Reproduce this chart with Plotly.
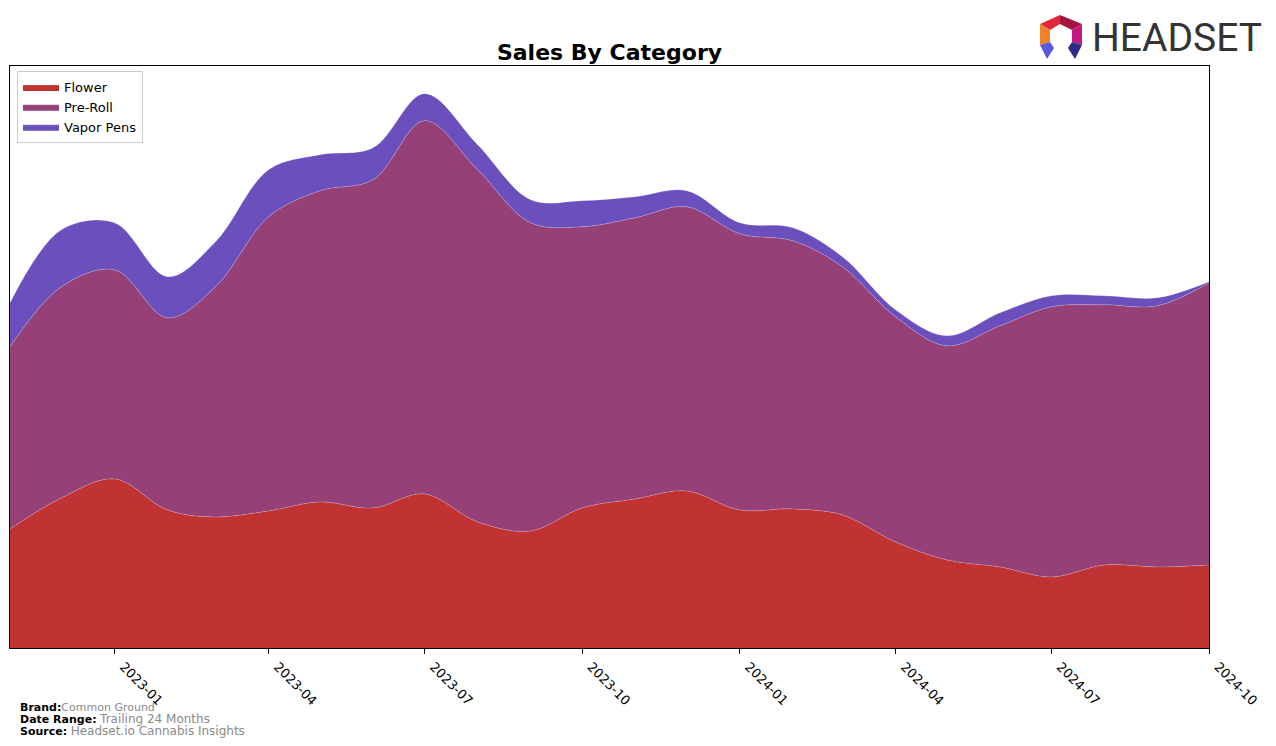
import plotly.graph_objects as go

# ---- data (monthly sales, arbitrary units) ----
months = ["2022-11-01", "2022-12-01", "2023-01-01", "2023-02-01", "2023-03-01", "2023-04-01",
          "2023-05-01", "2023-06-01", "2023-07-01", "2023-08-01", "2023-09-01", "2023-10-01",
          "2023-11-01", "2023-12-01", "2024-01-01", "2024-02-01", "2024-03-01", "2024-04-01",
          "2024-05-01", "2024-06-01", "2024-07-01", "2024-08-01", "2024-09-01", "2024-10-01"]
flower = [119, 150, 169, 138, 131, 137, 146, 140, 154, 126, 117, 140,
          149, 157, 138, 139, 133, 106, 88, 81, 71, 83, 81, 83]
pre_roll = [182, 211, 209, 192, 230, 294, 311, 328, 373, 352, 308, 281,
            281, 284, 276, 268, 248, 225, 214, 241, 270, 260, 261, 282]
vapor_pens = [44, 57, 47, 41, 45, 47, 36, 32, 27, 25, 23, 26,
              21, 16, 11, 13, 10, 7, 10, 13, 11, 9, 8, 1]
tick_vals = ["2023-01-01", "2023-04-01", "2023-07-01", "2023-10-01",
             "2024-01-01", "2024-04-01", "2024-07-01", "2024-10-01"]
tick_text = ["2023-01", "2023-04", "2023-07", "2023-10",
             "2024-01", "2024-04", "2024-07", "2024-10"]

series = [("Flower", flower, "#C13232"),
          ("Pre-Roll", pre_roll, "#954177"),
          ("Vapor Pens", vapor_pens, "#6A4FBD")]

W, H = 1276, 746
L, R, T, B = 10, 67, 66, 98
PW, PH = W - L - R, H - T - B


def px(x):
    return (x - L) / PW


def py(y):
    return (H - B - y) / PH


fig = go.Figure()
for name, vals, col in series:
    fig.add_trace(go.Scatter(
        x=months, y=vals, name=name, stackgroup="one", mode="lines",
        line=dict(shape="spline", smoothing=1.0, width=0.6, color="rgba(255,255,255,0.35)"),
        fillcolor=col,
    ))

totals = [a + b + c for a, b, c in zip(flower, pre_roll, vapor_pens)]
ymax = max(totals) * 1.05

fig.update_layout(
    width=W, height=H,
    margin=dict(l=L, r=R, t=T, b=B),
    paper_bgcolor="white", plot_bgcolor="white",
    font=dict(family="DejaVu Sans", size=13, color="black"),
    title=dict(text="<b>Sales By Category</b>", x=0.5, xref="paper",
               y=1 - 52 / H, yref="container", yanchor="middle", xanchor="center",
               font=dict(family="DejaVu Sans", size=22, color="black")),
    showlegend=True,
    legend=dict(x=px(17), y=py(71), xanchor="left", yanchor="top",
                bgcolor="rgba(255,255,255,0.8)", bordercolor="#cccccc", borderwidth=1,
                font=dict(family="DejaVu Sans", size=13, color="black"),
                traceorder="normal", itemwidth=36, tracegroupgap=0),
    hovermode=False,
    xaxis=dict(range=[months[0], months[-1]], tickvals=tick_vals, ticktext=tick_text,
               tickangle=45, ticks="outside", ticklen=5, tickcolor="black",
               ticklabelshift=9,
               showline=True, linecolor="black", linewidth=1, mirror=True,
               showgrid=False, zeroline=False,
               tickfont=dict(family="DejaVu Sans", size=13, color="black")),
    yaxis=dict(range=[0, ymax], showticklabels=False, ticks="",
               showline=True, linecolor="black", linewidth=1, mirror=True,
               showgrid=False, zeroline=False),
)

# footer
foot = [
    (707, "<b>Brand:</b><span style='color:#8a8a8a'>Common Ground</span>"),
    (718.5, "<b>Date Range:</b> <span style='color:#8a8a8a;font-size:12px'>Trailing 24 Months</span>"),
    (730.5, "<b>Source:</b> <span style='color:#8a8a8a;font-size:12px'>Headset.io Cannabis Insights</span>"),
]
for yy, txt in foot:
    fig.add_annotation(x=px(19), y=py(yy), xref="paper", yref="paper", text=txt,
                       showarrow=False, xanchor="left", yanchor="middle", borderpad=0,
                       font=dict(family="DejaVu Sans", size=11, color="black"))

# logo text
fig.add_annotation(x=px(1090), y=py(38), xref="paper", yref="paper", text="HEADSET",
                   showarrow=False, xanchor="left", yanchor="middle",
                   font=dict(family="Roboto", size=39, color="#333333"))

# logo icon facets
facets = [
    ([(1040, 24), (1060, 15), (1060, 24), (1050, 30)], "#E0283A"),
    ([(1060, 15), (1082, 24), (1072, 30), (1060, 24)], "#A3153D"),
    ([(1040, 24), (1050, 30), (1050, 42), (1040, 45)], "#F0822A"),
    ([(1082, 24), (1072, 30), (1072, 42), (1082, 45)], "#C21A7E"),
    ([(1040, 45), (1050, 42), (1054, 48), (1047, 59)], "#5A5AD8"),
    ([(1082, 45), (1072, 42), (1068, 48), (1075, 59)], "#2B2B8C"),
]
for pts, col in facets:
    path = "M " + " L ".join(f"{px(x):.5f},{py(y):.5f}" for x, y in pts) + " Z"
    fig.add_shape(type="path", path=path, xref="paper", yref="paper",
                  fillcolor=col, line=dict(width=0), layer="above")

fig.write_html("out.html")
